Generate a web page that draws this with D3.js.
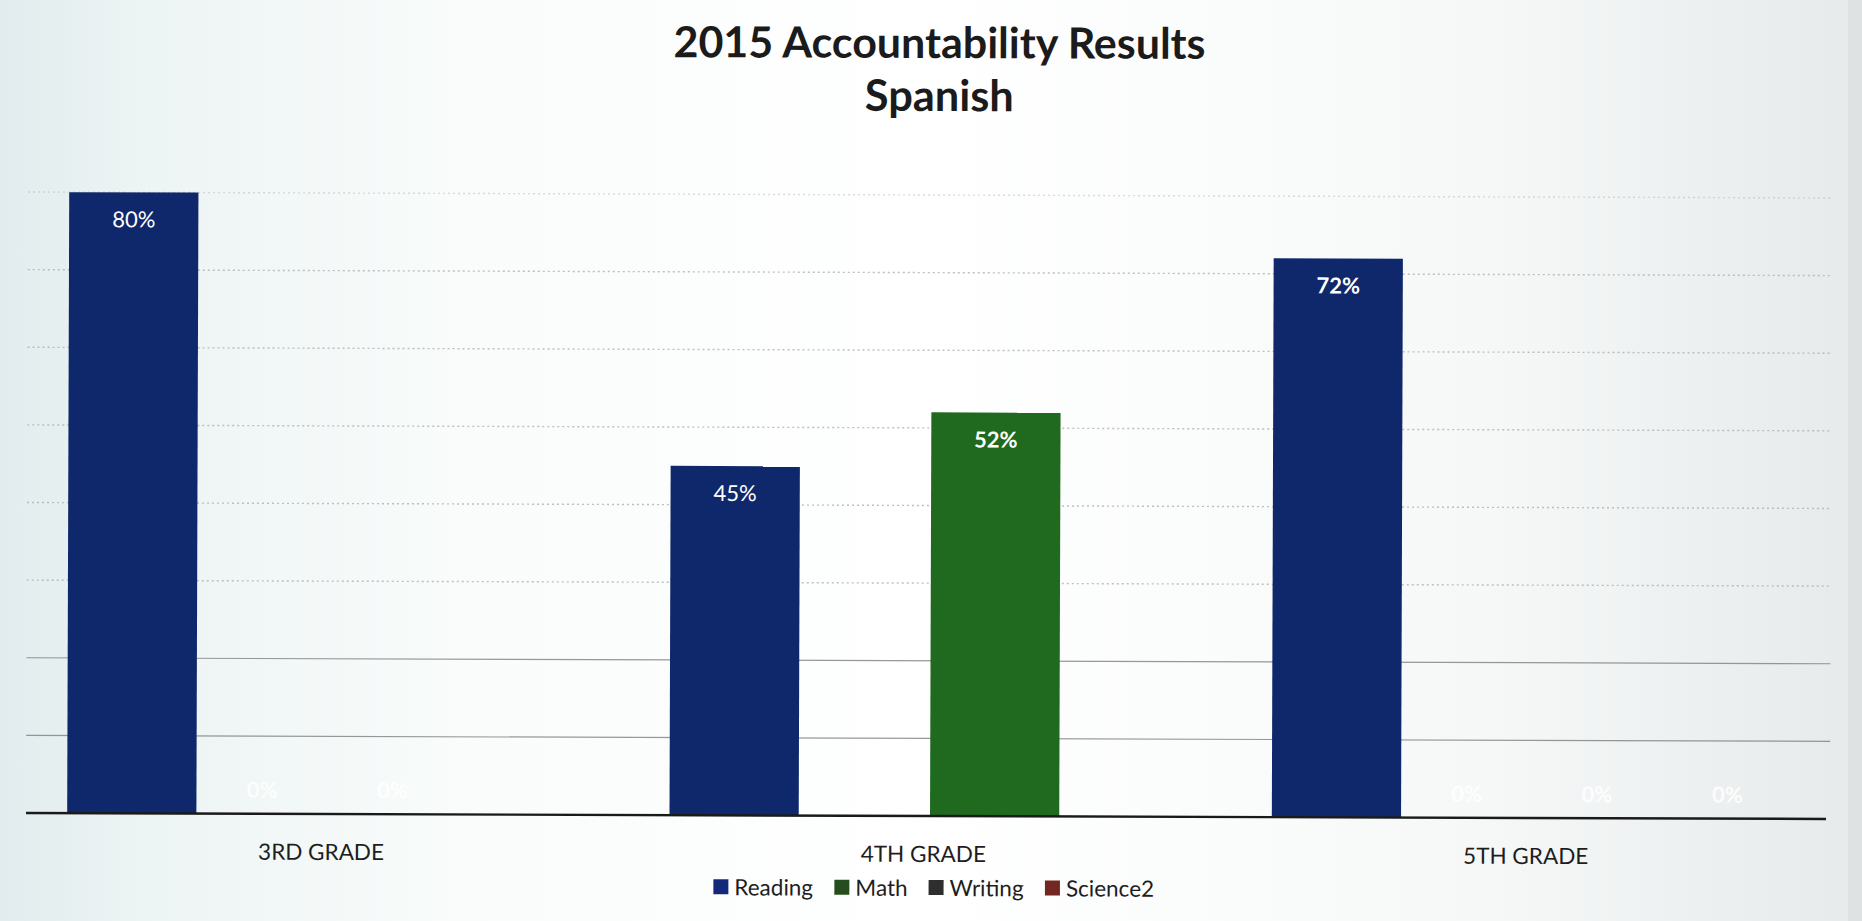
<!DOCTYPE html>
<html>
<head>
<meta charset="utf-8">
<script src="https://cdn.jsdelivr.net/npm/d3@7"></script>
<style>
  html, body { margin: 0; padding: 0; background: #ffffff; overflow: hidden; }
  svg { display: block; }
  text { font-family: Lato, "Open Sans", "Noto Sans", sans-serif; }
</style>
</head>
<body>
<svg id="chart" width="1862" height="921"></svg>
<script>
// Chart content
const titleLines = ["2015 Accountability Results", "Spanish"];
const categories = ["3RD GRADE", "4TH GRADE", "5TH GRADE"];
const seriesNames = ["Reading", "Math", "Writing", "Science2"];      // legend order
const slotOrder = ["Reading", "Writing", "Math", "Science2"];        // order of bars inside a group
const readingValues = [0.80, 0.45, 0.72];
const mathValues = [0, 0.52, 0];
const writingValues = [0, 0, 0];
const science2Values = [null, null, 0];
const gridTicks = [0.1, 0.2, 0.3, 0.4, 0.5, 0.6, 0.7, 0.8];

const seriesValues = {
  Reading: readingValues,
  Math: mathValues,
  Writing: writingValues,
  Science2: science2Values
};
const seriesColors = {
  Reading: "#0f286c",
  Math: "#1f6a1f",
  Writing: "#2e2e2e",
  Science2: "#7a2824"
};
const legendColors = {
  Reading: "#13287a",
  Math: "#264d1d",
  Writing: "#2e2e2e",
  Science2: "#742622"
};

const W = 1862, H = 921;
const svg = d3.select("#chart");

// Paper background: cool tint on the left, white centre, grey margin at right
const defs = svg.append("defs");
const bg = defs.append("linearGradient").attr("id", "paper").attr("x1", 0).attr("x2", 1).attr("y1", 0).attr("y2", 0);
[[0, "#e2ecee"], [0.08, "#edf4f4"], [0.25, "#f9fcfb"], [0.5, "#ffffff"], [0.8, "#f6f8f8"], [1, "#e6eaea"]]
  .forEach(([o, c]) => bg.append("stop").attr("offset", o).attr("stop-color", c));
svg.append("rect").attr("width", W).attr("height", H).attr("fill", "url(#paper)");
svg.append("rect").attr("x", 1848).attr("y", 0).attr("width", W - 1848).attr("height", H).attr("fill", "#dfe2e2");

// Plot area
const baseY = 816;
const plotLeft = 26, plotRight = 1833;

const g = svg.append("g").attr("transform", `rotate(0.19, 931, ${baseY})`);

const x0 = d3.scaleBand().domain(categories).range([plotLeft, plotRight]).padding(0);
const x1 = d3.scaleBand().domain(slotOrder).range([0, x0.bandwidth()])
  .paddingInner(0.008).paddingOuter(0.316);
const y = d3.scaleLinear().domain([0, 0.9]).range([baseY, baseY - 0.9 * 776.25]);

// Gridlines
g.append("g").selectAll("line").data(gridTicks).join("line")
  .attr("x1", plotLeft).attr("x2", 1830)
  .attr("y1", d => y(d)).attr("y2", d => y(d))
  .attr("stroke", d => d <= 0.2 ? "#7f7f7f" : "#b0b0b0")
  .attr("stroke-width", d => d <= 0.2 ? 1.2 : 1.4)
  .attr("stroke-dasharray", d => d <= 0.2 ? null : "2,3")
  .attr("opacity", d => d >= 0.8 ? 0.45 : 0.8);

// Bars
const barData = [];
categories.forEach((c, i) => {
  slotOrder.forEach(s => {
    const v = seriesValues[s][i];
    if (v !== null && v !== undefined) barData.push({ cat: c, series: s, value: v });
  });
});

g.append("g").selectAll("rect").data(barData.filter(d => d.value > 0)).join("rect")
  .attr("x", d => x0(d.cat) + x1(d.series))
  .attr("y", d => y(d.value))
  .attr("width", x1.bandwidth())
  .attr("height", d => y(0) - y(d.value))
  .attr("fill", d => seriesColors[d.series]);

// Value labels (white, inside the bar top; zero values sit just above the axis)
g.append("g").selectAll("text").data(barData).join("text")
  .attr("x", d => x0(d.cat) + x1(d.series) + x1.bandwidth() / 2)
  .attr("y", d => d.value > 0 ? y(d.value) + 35 : y(0) - 16)
  .attr("text-anchor", "middle")
  .attr("font-size", 22)
  .attr("font-weight", d => (d.value === 0 || d.series === "Math" || d.value === 0.72) ? 700 : 400)
  .attr("fill", "#ffffff")
  .attr("fill-opacity", d => d.value > 0 ? 1 : 0.85)
  .text(d => d3.format(".0%")(d.value));

// Category axis
const xAxis = g.append("g").attr("transform", `translate(0, ${baseY})`)
  .call(d3.axisBottom(x0).tickSize(0).tickPadding(30));
xAxis.select(".domain").attr("stroke", "#1a1a1a").attr("stroke-width", 2.4)
  .attr("d", `M${plotLeft},0H1826`);
xAxis.selectAll("text")
  .attr("font-size", 22.5)
  .attr("fill", "#1e1e1e")
  .attr("font-family", "Lato, 'Open Sans', sans-serif")
  .attr("dx", -6);

// Title
const title = g.append("g").attr("text-anchor", "middle").attr("fill", "#1b1b1b").attr("font-weight", 700);
const t1 = title.append("text").attr("x", 937).attr("y", 58).attr("font-size", 40).text(titleLines[0]);
const t2 = title.append("text").attr("x", 937).attr("y", 111).attr("font-size", 40).text(titleLines[1]);
// fit title lines to their set widths
[[t1, 532], [t2, 149]].forEach(([t, w]) => {
  const len = t.node().getComputedTextLength();
  t.attr("font-size", 40 * w / len);
});

// Legend
const legend = g.append("g").attr("transform", "translate(0, 888)");
const items = legend.selectAll("g").data(seriesNames).join("g");
items.append("rect").attr("width", 15).attr("height", 15).attr("y", -8)
  .attr("fill", d => legendColors[d]);
items.append("text").attr("x", 21).attr("y", 8).attr("font-size", 22.5).attr("fill", "#1e1e1e").text(d => d);
let cx = 0;
const offsets = [];
items.each(function () {
  offsets.push(cx);
  cx += this.getBBox().width + 21;
});
const totalW = cx - 21;
const startX = 934 - totalW / 2;
items.attr("transform", (d, i) => `translate(${startX + offsets[i]}, 0)`);
</script>
</body>
</html>
